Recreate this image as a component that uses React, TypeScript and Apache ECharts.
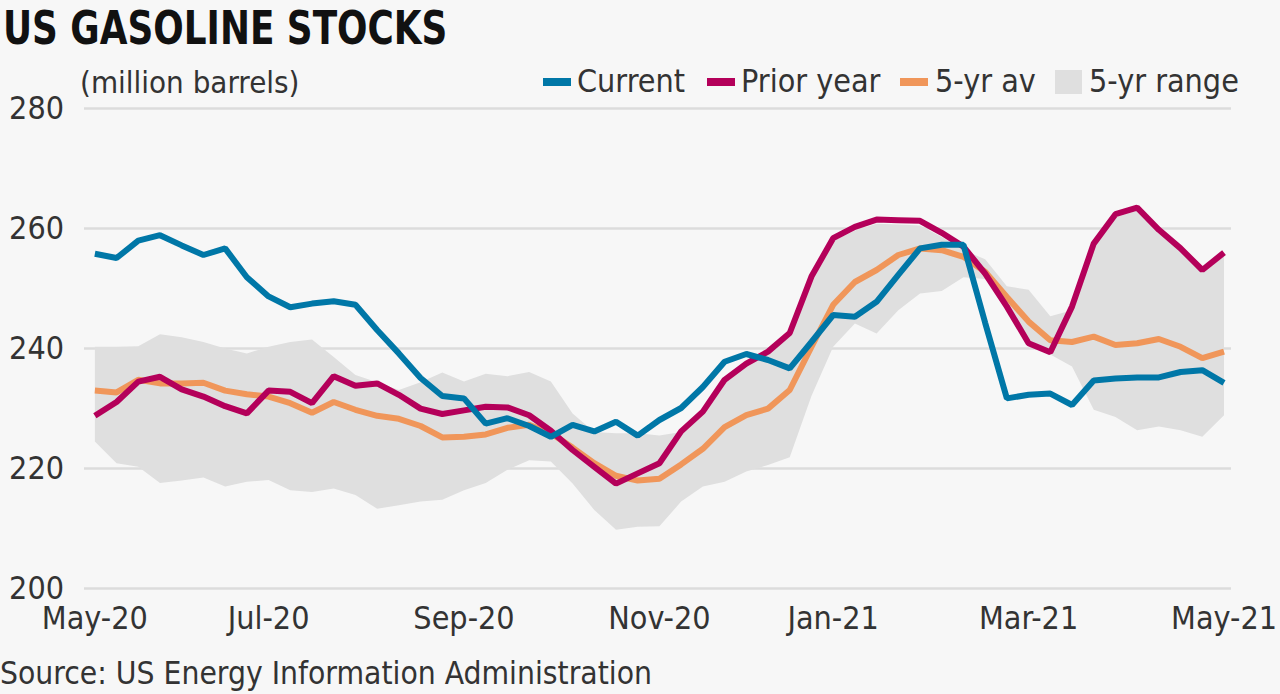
import React, { useEffect, useRef } from "react";
import * as echarts from "echarts";

const categories = [
  "2020-05-08", "2020-05-15", "2020-05-22", "2020-05-29", "2020-06-05", "2020-06-12", "2020-06-19", "2020-06-26",
  "2020-07-03", "2020-07-10", "2020-07-17", "2020-07-24", "2020-07-31", "2020-08-07", "2020-08-14", "2020-08-21",
  "2020-08-28", "2020-09-04", "2020-09-11", "2020-09-18", "2020-09-25", "2020-10-02", "2020-10-09", "2020-10-16",
  "2020-10-23", "2020-10-30", "2020-11-06", "2020-11-13", "2020-11-20", "2020-11-27", "2020-12-04", "2020-12-11",
  "2020-12-18", "2020-12-25", "2021-01-01", "2021-01-08", "2021-01-15", "2021-01-22", "2021-01-29", "2021-02-05",
  "2021-02-12", "2021-02-19", "2021-02-26", "2021-03-05", "2021-03-12", "2021-03-19", "2021-03-26", "2021-04-02",
  "2021-04-09", "2021-04-16", "2021-04-23", "2021-04-30", "2021-05-07",
];

const current = [
  255.7, 255.0, 257.9, 258.8, 257.1, 255.5, 256.6, 251.8, 248.6, 246.8, 247.4, 247.8, 247.2, 243.0,
  239.1, 235.0, 232.0, 231.6, 227.4, 228.3, 227.0, 225.2, 227.2, 226.1, 227.7, 225.4, 228.0, 230.0,
  233.5, 237.7, 239.0, 238.0, 236.6, 241.0, 245.5, 245.2, 247.7, 252.2, 256.6, 257.2, 257.2, 244.2,
  231.6, 232.2, 232.4, 230.5, 234.6, 234.9, 235.1, 235.1, 236.0, 236.3, 234.2,
];

const priorYear = [
  228.7, 231.0, 234.4, 235.2, 233.1, 231.9, 230.3, 229.1, 232.9, 232.7, 230.8, 235.3, 233.7, 234.1,
  232.2, 229.9, 229.0, 229.6, 230.2, 230.1, 228.8, 226.2, 223.0, 220.2, 217.4, 219.1, 220.8, 226.1,
  229.4, 234.7, 237.4, 239.4, 242.5, 251.9, 258.3, 260.2, 261.4, 261.3, 261.2, 259.2, 256.9, 252.4,
  246.9, 240.8, 239.3, 246.9, 257.4, 262.3, 263.4, 259.7, 256.6, 253.0, 255.9,
];

const fiveYrAvg = [
  232.9, 232.6, 234.7, 234.1, 234.1, 234.2, 232.9, 232.3, 231.9, 230.8, 229.2, 231.0, 229.7, 228.7,
  228.2, 227.0, 225.1, 225.2, 225.6, 226.7, 227.2, 225.8, 223.4, 220.8, 218.7, 217.9, 218.2, 220.6,
  223.2, 226.8, 228.8, 229.9, 233.0, 240.2, 247.2, 251.0, 253.0, 255.5, 256.6, 256.3, 255.2, 252.7,
  248.5, 244.4, 241.3, 241.0, 241.9, 240.5, 240.8, 241.5, 240.2, 238.3, 239.4,
];

const rangeLow = [
  224.4, 220.8, 220.2, 217.5, 217.9, 218.4, 216.9, 217.7, 218.0, 216.3, 216.0, 216.6, 215.5, 213.2,
  213.8, 214.4, 214.7, 216.3, 217.5, 219.7, 221.3, 221.1, 217.4, 213.0, 209.7, 210.2, 210.3, 214.4,
  216.9, 217.7, 219.4, 220.5, 221.8, 232.0, 240.2, 244.1, 242.4, 246.3, 249.1, 249.5, 251.8, 251.5,
  247.5, 241.5, 238.9, 236.9, 229.7, 228.5, 226.3, 226.9, 226.3, 225.2, 228.8,
];

const rangeHigh = [
  240.2, 240.2, 240.3, 242.3, 241.8, 241.0, 239.9, 239.1, 240.2, 241.0, 241.4, 238.5, 235.5, 234.3,
  233.0, 234.3, 235.9, 234.4, 235.7, 235.3, 236.0, 234.4, 229.1, 226.0, 225.8, 225.8, 225.4, 226.0,
  229.0, 234.3, 237.0, 239.0, 242.0, 251.5, 257.8, 259.6, 260.7, 260.6, 260.4, 258.5, 256.3, 254.8,
  250.3, 249.7, 245.3, 246.3, 257.0, 261.8, 262.9, 259.2, 256.1, 252.6, 255.3,
];

const xTickDates = ["2020-05-08", "2020-07-03", "2020-09-04", "2020-11-06", "2021-01-01", "2021-03-05", "2021-05-07"];
const xTickLabels = ["May-20", "Jul-20", "Sep-20", "Nov-20", "Jan-21", "Mar-21", "May-21"];

const yMin = 200;
const yMax = 280;
const yStep = 20;

const legendNames = ["Current", "Prior year", "5-yr av", "5-yr range"];

const COLORS = {
  current: "#0077a7",
  prior: "#b4005a",
  avg: "#f0965a",
  range: "#dfdfdf",
  grid: "#dcdcdc",
  text: "#333333",
  bg: "#f7f7f7",
};

const FONT = "'DejaVu Sans Condensed', 'Liberation Sans Narrow', sans-serif";

export default function App() {
  const ref = useRef<HTMLDivElement>(null);

  useEffect(() => {
    document.body.style.margin = "0";
    if (!ref.current) return;
    const chart = echarts.init(ref.current, undefined, { renderer: "svg" });

    const pairs = (arr: number[]) => arr.map((v, i) => [i, v]);
    const tickIdx = xTickDates.map((d) => categories.indexOf(d));
    const labelFor: Record<number, string> = {};
    tickIdx.forEach((ix, k) => (labelFor[ix] = xTickLabels[k]));

    const fs = 32;
    const lw = 6;
    const legendY = 81;
    const legendText = (x: number, text: string) => ({
      type: "text",
      x,
      y: legendY,
      style: { text, font: `${fs}px ${FONT}`, fill: COLORS.text, verticalAlign: "middle" },
    });

    chart.setOption({
      animation: false,
      backgroundColor: COLORS.bg,
      textStyle: { fontFamily: FONT },
      grid: { left: 84, right: 48, top: 108, bottom: 106 },
      xAxis: {
        type: "value",
        min: -0.5,
        max: 52.32,
        axisLine: { show: false },
        axisTick: { show: false },
        splitLine: { show: false },
        axisLabel: {
          customValues: tickIdx,
          formatter: (v: number) => labelFor[Math.round(v)] ?? "",
          fontSize: fs,
          lineHeight: 26,
          fontFamily: FONT,
          color: COLORS.text,
          margin: 17,
        },
      },
      yAxis: {
        type: "value",
        min: yMin,
        max: yMax,
        interval: yStep,
        axisLine: { show: false },
        axisTick: { show: false },
        axisLabel: {
          fontSize: fs,
          lineHeight: 24,
          fontFamily: FONT,
          color: COLORS.text,
          margin: 20,
          align: "right",
        },
        splitLine: { lineStyle: { color: COLORS.grid, width: 2.5 } },
      },
      graphic: [
        {
          type: "text",
          x: 3,
          y: 5,
          scaleX: 0.866,
          style: {
            text: "US GASOLINE STOCKS",
            font: `bold 46px ${FONT}`,
            fill: "#111111",
            verticalAlign: "top",
          },
        },
        {
          type: "text",
          x: 80,
          y: 82,
          style: { text: "(million barrels)", font: `31px ${FONT}`, fill: COLORS.text, verticalAlign: "middle" },
        },
        { type: "rect", shape: { x: 543, y: legendY - 3, width: 28, height: 8 }, style: { fill: COLORS.current } },
        legendText(577, legendNames[0]),
        { type: "rect", shape: { x: 707, y: legendY - 3, width: 28, height: 8 }, style: { fill: COLORS.prior } },
        legendText(741, legendNames[1]),
        { type: "rect", shape: { x: 900, y: legendY - 3, width: 28, height: 8 }, style: { fill: COLORS.avg } },
        legendText(935, legendNames[2]),
        { type: "rect", shape: { x: 1055, y: legendY - 11, width: 27, height: 24 }, style: { fill: COLORS.range } },
        legendText(1089, legendNames[3]),
        {
          type: "text",
          x: 0,
          y: 673,
          style: {
            text: "Source: US Energy Information Administration",
            font: `31.5px ${FONT}`,
            fill: COLORS.text,
            verticalAlign: "middle",
          },
        },
      ],
      series: [
        {
          name: legendNames[3],
          type: "custom",
          data: rangeLow.map((l, i) => [i, l, rangeHigh[i]]),
          encode: { x: 0, y: [1, 2] },
          silent: true,
          z: 1,
          renderItem: (params: any, api: any) => {
            if (params.dataIndex !== 0) return null;
            const top = rangeHigh.map((v, i) => api.coord([i, v]));
            const bottom = rangeLow.map((v, i) => api.coord([i, v])).reverse();
            return {
              type: "polygon",
              shape: { points: top.concat(bottom) },
              style: { fill: COLORS.range, stroke: "none" },
            };
          },
        },
        {
          name: legendNames[2],
          type: "line",
          data: pairs(fiveYrAvg),
          symbol: "none",
          lineStyle: { color: COLORS.avg, width: lw },
          z: 2,
        },
        {
          name: legendNames[1],
          type: "line",
          data: pairs(priorYear),
          symbol: "none",
          lineStyle: { color: COLORS.prior, width: lw },
          z: 3,
        },
        {
          name: legendNames[0],
          type: "line",
          data: pairs(current),
          symbol: "none",
          lineStyle: { color: COLORS.current, width: lw },
          z: 4,
        },
      ],
    });

    return () => chart.dispose();
  }, []);

  return <div ref={ref} style={{ width: 1280, height: 694 }} />;
}
